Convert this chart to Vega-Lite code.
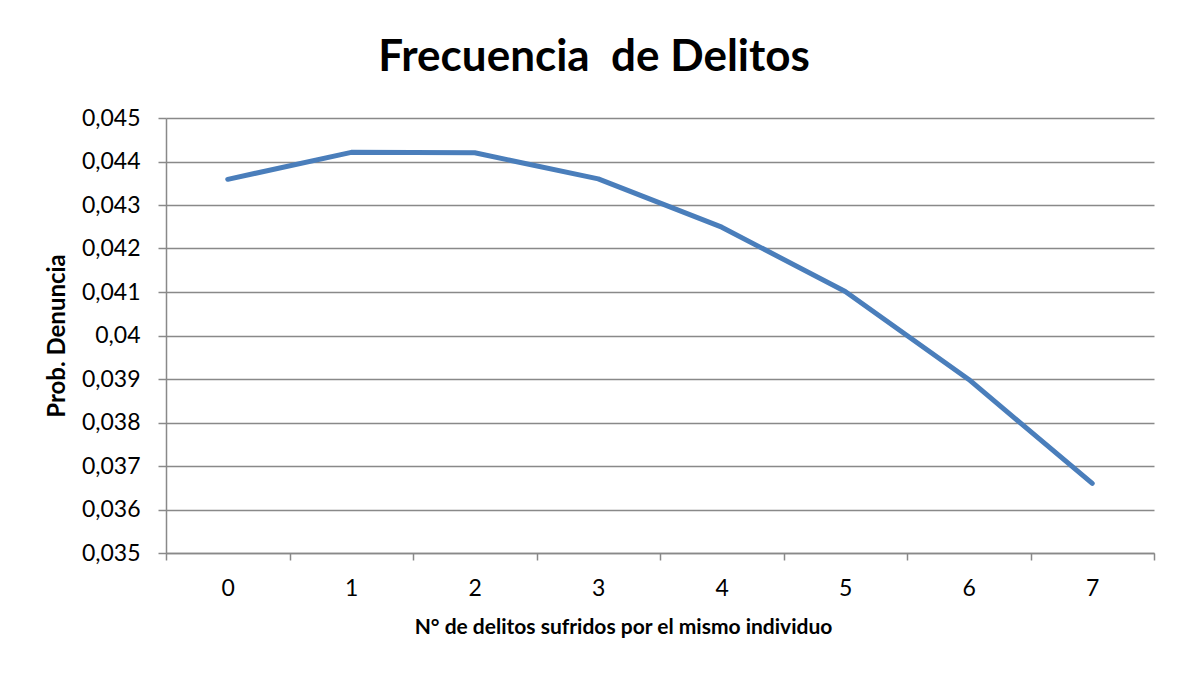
{
  "$schema": "https://vega.github.io/schema/vega-lite/v6.json",
  "width": 988,
  "height": 435,
  "autosize": {"type": "none"},
  "padding": {"left": 166, "top": 118, "right": 23, "bottom": 120},
  "background": "white",
  "config": {
    "locale": {"number": {"decimal": ",", "thousands": ".", "grouping": [3], "currency": ["", " €"]}},
    "view": {"stroke": null},
    "font": "Lato"
  },
  "title": {
    "text": "Frecuencia \u00a0de Delitos",
    "font": "Lato",
    "fontSize": 44,
    "fontWeight": "bold",
    "color": "black",
    "anchor": "middle",
    "frame": "group",
    "dx": -66,
    "offset": 27
  },
  "data": {
    "values": [
      {"n": "0", "p": 0.04359},
      {"n": "1", "p": 0.04421},
      {"n": "2", "p": 0.04420},
      {"n": "3", "p": 0.04360},
      {"n": "4", "p": 0.04249},
      {"n": "5", "p": 0.04101},
      {"n": "6", "p": 0.03899},
      {"n": "7", "p": 0.03660}
    ]
  },
  "mark": {"type": "line", "color": "#4A7EBB", "strokeWidth": 5, "strokeCap": "round", "strokeJoin": "round"},
  "encoding": {
    "x": {
      "field": "n",
      "type": "ordinal",
      "bandPosition": 0.5,
      "scale": {"type": "band", "paddingInner": 0, "paddingOuter": 0},
      "axis": {
        "title": "N° de delitos sufridos por el mismo individuo",
        "titleFont": "Lato",
        "titleFontSize": 21,
        "titleFontWeight": "bold",
        "titleColor": "black",
        "titlePadding": 16,
        "titleX": 457,
        "labelAngle": 0,
        "labelFont": "Lato",
        "labelFontSize": 23,
        "labelColor": "black",
        "labelPadding": 17,
        "tickBand": "extent",
        "tickSize": 7,
        "tickColor": "#898989",
        "tickWidth": 1.5,
        "domainColor": "#898989",
        "domainWidth": 1.5,
        "grid": false
      }
    },
    "y": {
      "field": "p",
      "type": "quantitative",
      "scale": {"domain": [0.035, 0.045], "nice": false, "zero": false},
      "axis": {
        "title": "Prob. Denuncia",
        "titleFont": "Lato",
        "titleFontSize": 24,
        "titleFontWeight": "bold",
        "titleColor": "black",
        "titlePadding": 12,
        "values": [0.035, 0.036, 0.037, 0.038, 0.039, 0.04, 0.041, 0.042, 0.043, 0.044, 0.045],
        "format": ".3~f",
        "labelFont": "Lato",
        "labelFontSize": 23,
        "labelColor": "black",
        "labelPadding": 18,
        "tickSize": 8,
        "tickColor": "#898989",
        "tickWidth": 1.5,
        "domainColor": "#898989",
        "domainWidth": 1.5,
        "grid": true,
        "gridColor": "#898989",
        "gridWidth": 1.5
      }
    }
  }
}
